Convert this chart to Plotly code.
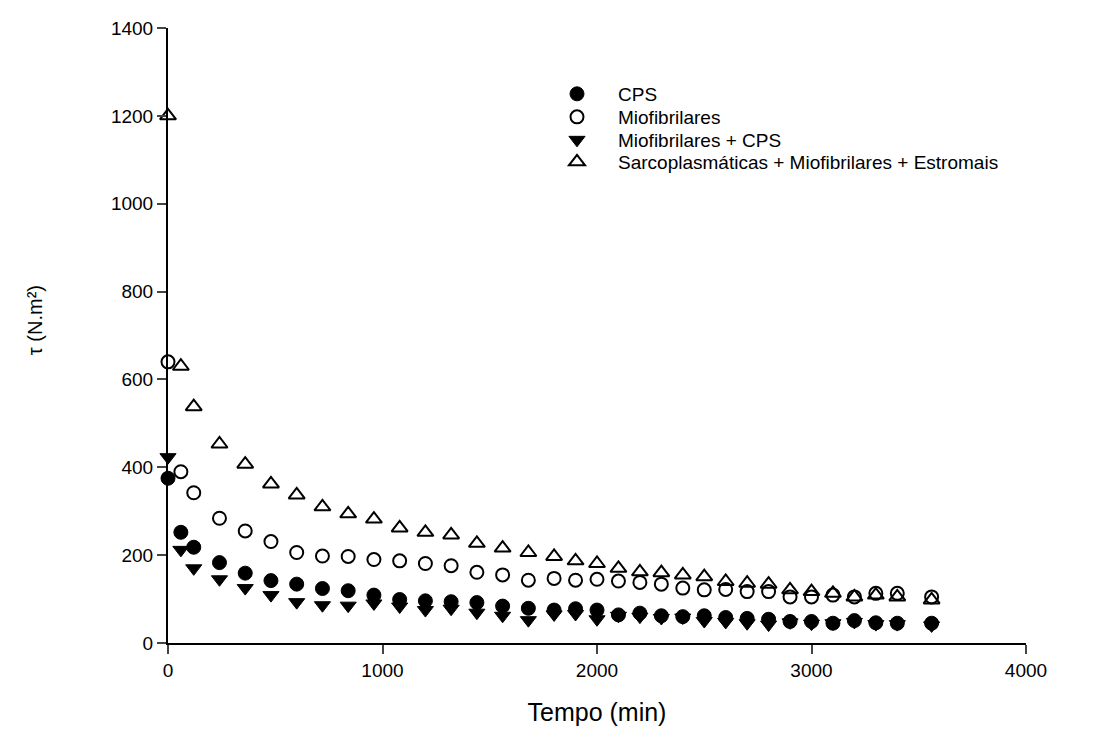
import plotly.graph_objects as go

tempo = [0, 60, 120, 240, 360, 480, 600, 720, 840, 960, 1080, 1200, 1320, 1440, 1560, 1680,
         1800, 1900, 2000, 2100, 2200, 2300, 2400, 2500, 2600, 2700, 2800, 2900, 3000, 3100,
         3200, 3300, 3400, 3560]

cps = [375, 252, 218, 183, 159, 142, 134, 124, 119, 109, 99, 96, 94, 92, 84, 79,
       75, 78, 75, 64, 68, 62, 60, 62, 58, 56, 54, 49, 49, 45, 51, 46, 45, 45]

miofibrilares = [640, 390, 342, 284, 255, 231, 206, 198, 197, 190, 187, 181, 176, 161, 155, 143,
                 147, 143, 145, 141, 138, 134, 125, 121, 122, 117, 117, 105, 105, 109, 105, 113, 113, 105]

miof_cps = [423, 212, 170, 145, 125, 109, 93, 86, 85, 90, 83, 75, 78, 69, 62, 52,
            65, 66, 54, 62, 60, 57, 58, 50, 48, 45, 42, 47, 44, 45, 48, 43, 43, 40]

sarco = [1200, 630, 538, 453, 407, 362, 337, 310, 294, 282, 262, 252, 246, 227, 216, 206,
         197, 187, 181, 170, 162, 160, 155, 151, 140, 136, 134, 121, 117, 113, 105, 109, 105, 98]

series_names = ["CPS", "Miofibrilares", "Miofibrilares + CPS",
                "Sarcoplasmáticas + Miofibrilares + Estromais"]

x_ticks = [0, 1000, 2000, 3000, 4000]
y_ticks = [0, 200, 400, 600, 800, 1000, 1200, 1400]

FONT = "Arial, Liberation Sans, sans-serif"

fig = go.Figure()
styles = [
    (cps, dict(symbol="circle", size=14, color="black", line=dict(color="black", width=1))),
    (miofibrilares, dict(symbol="circle-open", size=13, color="black", line=dict(color="black", width=2))),
    (miof_cps, dict(symbol="triangle-down", size=14, color="black", line=dict(color="black", width=1))),
    (sarco, dict(symbol="triangle-up-open", size=14, color="black", line=dict(color="black", width=2))),
]
legend_ids = ["legend", "legend2", "legend3", "legend4"]
for name, (vals, mk), lid in zip(series_names, styles, legend_ids):
    fig.add_trace(go.Scatter(x=tempo, y=vals, mode="markers", name=name, marker=mk,
                             cliponaxis=False, legend=lid))

legend_rows = [0.8927, 0.8553, 0.8179, 0.7821]
legend_common = dict(x=0.4289, xanchor="left", yanchor="middle",
                     font=dict(family=FONT, size=19, color="black"),
                     bgcolor="rgba(0,0,0,0)", itemwidth=72, borderwidth=0)

fig.update_layout(
    width=1104, height=740,
    margin=dict(l=168, r=78, t=28, b=97),
    paper_bgcolor="white", plot_bgcolor="white",
    font=dict(family=FONT, size=19, color="black"),
    showlegend=True,
    legend=dict(y=legend_rows[0], **legend_common),
    legend2=dict(y=legend_rows[1], **legend_common),
    legend3=dict(y=legend_rows[2], **legend_common),
    legend4=dict(y=legend_rows[3], **legend_common),
    xaxis=dict(range=[0, 4000], tickvals=x_ticks, ticks="outside", ticklen=9, tickwidth=2,
               showline=True, linecolor="black", linewidth=2, showgrid=False, zeroline=False,
               tickfont=dict(size=19), title=dict(text="Tempo (min)", font=dict(size=25), standoff=24)),
    yaxis=dict(range=[0, 1400], tickvals=y_ticks, ticks="outside", ticklen=9, tickwidth=2,
               showline=True, linecolor="black", linewidth=2, showgrid=False, zeroline=False,
               tickfont=dict(size=19)),
    annotations=[dict(text="τ (N.m²)", xref="paper", yref="paper", x=-0.155, y=0.525,
                      xanchor="center", yanchor="middle", textangle=-90, showarrow=False,
                      font=dict(family=FONT, size=20, color="black"))],
)

fig.write_html("out.html")
